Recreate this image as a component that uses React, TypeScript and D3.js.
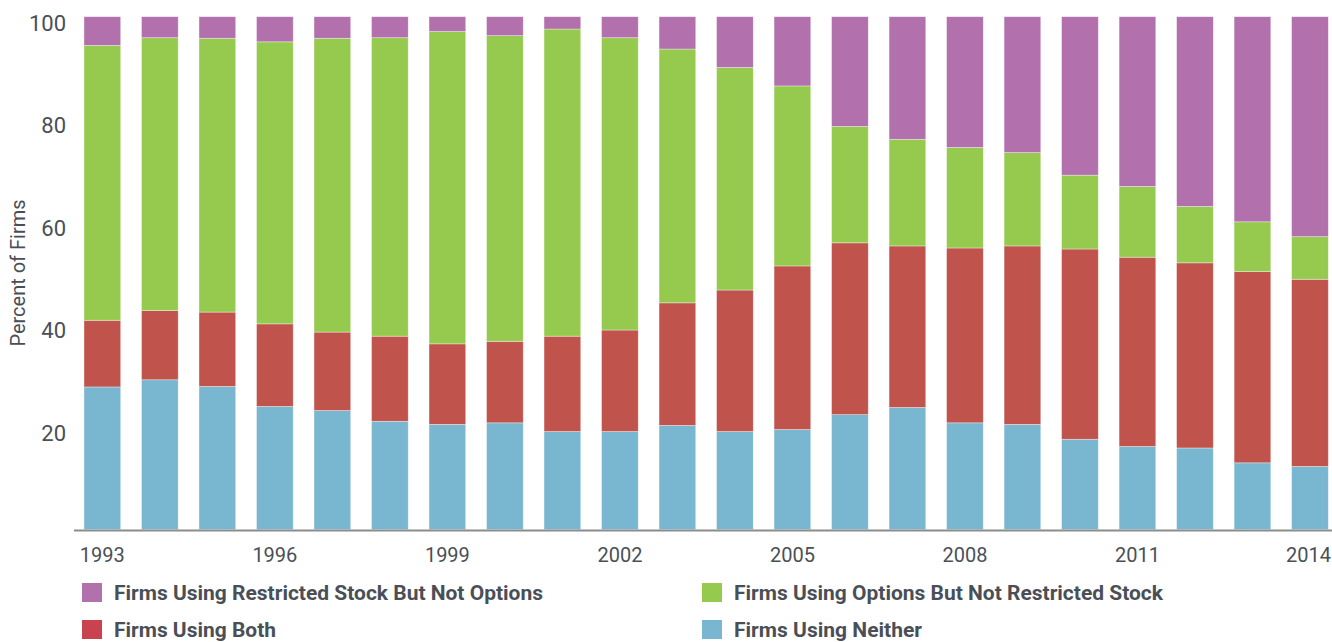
import React from "react";
import * as d3 from "d3";

const years = [
  "1993", "1994", "1995", "1996", "1997", "1998", "1999", "2000", "2001", "2002", "2003",
  "2004", "2005", "2006", "2007", "2008", "2009", "2010", "2011", "2012", "2013", "2014",
];
const neither = [27.8, 29.2, 27.9, 24.0, 23.2, 21.1, 20.5, 20.8, 19.1, 19.1, 20.3, 19.1, 19.5, 22.4, 23.8, 20.8, 20.5, 17.6, 16.2, 15.9, 13.0, 12.3];
const both = [13.0, 13.5, 14.5, 16.1, 15.3, 16.6, 15.7, 15.9, 18.6, 19.8, 23.9, 27.6, 31.9, 33.5, 31.5, 34.1, 34.8, 37.1, 36.9, 36.1, 37.3, 36.5];
const optionsOnly = [53.6, 53.2, 53.4, 55.0, 57.3, 58.2, 60.9, 59.6, 59.9, 57.0, 49.5, 43.4, 35.1, 22.7, 20.8, 19.6, 18.2, 14.4, 13.8, 11.0, 9.7, 8.3];
const restrictedOnly = [5.6, 4.1, 4.2, 4.9, 4.2, 4.1, 2.9, 3.7, 2.4, 4.1, 6.3, 9.9, 13.5, 21.4, 23.9, 25.5, 26.5, 30.9, 33.1, 37.0, 40.0, 42.9];
const yTicks = [20, 40, 60, 80, 100];
const xTickLabels = ["1993", "1996", "1999", "2002", "2005", "2008", "2011", "2014"];

const keys = ["neither", "both", "options", "restricted"];
const colors: Record<string, string> = {
  neither: "#79b7d0",
  both: "#c0544d",
  options: "#96ca4f",
  restricted: "#b270ad",
};
const legendItems = [
  { key: "restricted", label: "Firms Using Restricted Stock But Not Options", color: "#b270ad", x: 82, y: 583, tw: 429 },
  { key: "options", label: "Firms Using Options But Not Restricted Stock", color: "#96ca4f", x: 702, y: 583, tw: 429 },
  { key: "both", label: "Firms Using Both", color: "#c8434f", x: 82, y: 620, tw: 162 },
  { key: "neither", label: "Firms Using Neither", color: "#79b7d0", x: 702, y: 620, tw: 188 },
];

const textColor = "#4a4f57";
const font = "Roboto, 'Open Sans', sans-serif";

export default function App() {
  const W = 1332;
  const H = 642;
  const rows = years.map((y, i) => ({
    year: y,
    neither: neither[i],
    both: both[i],
    options: optionsOnly[i],
    restricted: restrictedOnly[i],
  }));
  const series = d3.stack<any>().keys(keys)(rows);
  const x = d3.scaleBand<string>().domain(years).range([84, 1328.3]).paddingInner(0.362).paddingOuter(0);
  const y = d3.scaleLinear().domain([0, 100]).range([529.5, 16.7]);

  return (
    <svg width={W} height={H} style={{ position: "absolute", left: 0, top: 0, background: "#fff" }}>
      {series.map((s) => (
        <g key={s.key} fill={colors[s.key]}>
          {s.map((d, i) => (
            <rect
              key={i}
              x={x(years[i])}
              width={x.bandwidth()}
              y={y(d[1])}
              height={y(d[0]) - y(d[1])}
              stroke="#ffffff"
              strokeWidth={0.7}
              strokeOpacity={0.5}
            />
          ))}
        </g>
      ))}
      <line x1={74} x2={1332} y1={530.5} y2={530.5} stroke="#8c8c8c" strokeWidth={2} />
      {yTicks.map((t) => (
        <text
          key={t}
          x={66}
          y={y(t) + 6.5}
          textAnchor="end"
          dominantBaseline="central"
          fontFamily={font}
          fontSize={22}
          fill={textColor}
        >
          {t}
        </text>
      ))}
      {xTickLabels.map((t) => (
        <text
          key={t}
          x={(x(t) as number) + x.bandwidth() / 2 - (t === "2014" ? 1.5 : 0)}
          y={555}
          textAnchor="middle"
          dominantBaseline="central"
          fontFamily={font}
          fontSize={20}
          fill={textColor}
        >
          {t}
        </text>
      ))}
      <text
        transform="translate(18,273) rotate(-90)"
        textAnchor="middle"
        dominantBaseline="central"
        fontFamily={font}
        fontSize={20}
        fill={textColor}
      >
        Percent of Firms
      </text>
      {legendItems.map((l) => (
        <g key={l.key}>
          <rect x={l.x} y={l.y} width={20} height={19} fill={l.color} />
          <text
            x={l.x + 32}
            y={l.y + 17}
            fontFamily={font}
            fontWeight="bold"
            fontSize={21}
            fill={textColor}
            textLength={l.tw}
            lengthAdjust="spacingAndGlyphs"
          >
            {l.label}
          </text>
        </g>
      ))}
    </svg>
  );
}
